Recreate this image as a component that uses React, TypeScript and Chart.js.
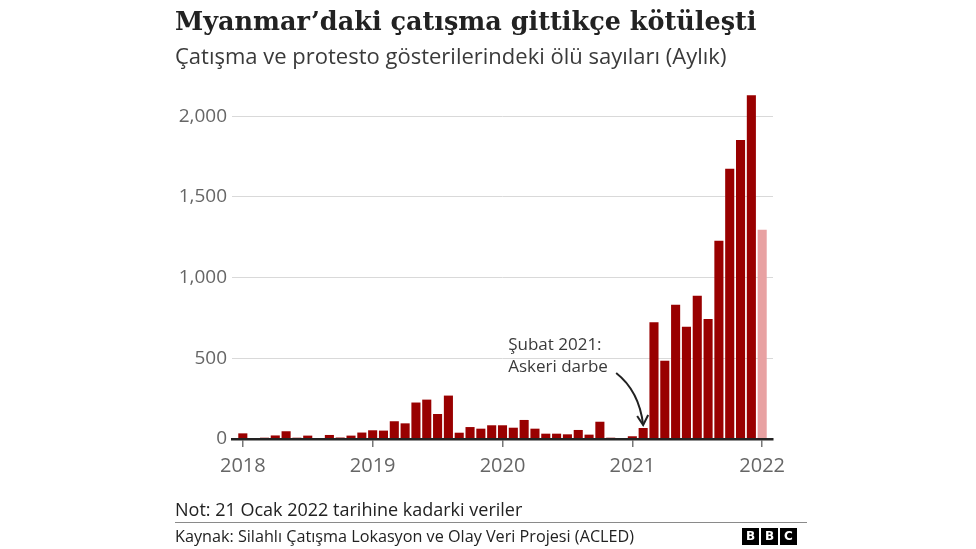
import React, { useEffect, useRef } from "react";
import { Chart, registerables } from "chart.js";

Chart.register(...registerables);

const months: string[] = [
  "2018-01","2018-02","2018-03","2018-04","2018-05","2018-06","2018-07","2018-08","2018-09","2018-10","2018-11","2018-12",
  "2019-01","2019-02","2019-03","2019-04","2019-05","2019-06","2019-07","2019-08","2019-09","2019-10","2019-11","2019-12",
  "2020-01","2020-02","2020-03","2020-04","2020-05","2020-06","2020-07","2020-08","2020-09","2020-10","2020-11","2020-12",
  "2021-01","2021-02","2021-03","2021-04","2021-05","2021-06","2021-07","2021-08","2021-09","2021-10","2021-11","2021-12",
  "2022-01",
];

const deaths: number[] = [
  35, 3, 8, 22, 48, 8, 21, 5, 25, 9, 21, 40,
  54, 52, 110, 97, 226, 244, 155, 269, 39, 74, 64, 85,
  85, 70, 118, 64, 33, 33, 29, 56, 27, 107, 8, 3,
  17, 68, 724, 485, 832, 696, 888, 743, 1228, 1674, 1853, 2130,
  1296,
];

const yearTickMonths: string[] = ["2018-01", "2019-01", "2020-01", "2021-01", "2022-01"];
const yearTickLabels: string[] = ["2018", "2019", "2020", "2021", "2022"];
const yTickValues: number[] = [0, 500, 1000, 1500, 2000];

const annotationMonth = "2021-02";
const annotationLines: string[] = ["Şubat 2021:", "Askeri darbe"];

const DARK = "#990000";
const LIGHT = "#e8a1a2";
const SANS = "'Open Sans', 'Noto Sans', sans-serif";

const annotationPlugin = {
  id: "coupAnnotation",
  afterDatasetsDraw(chart: any) {
    const { ctx, scales } = chart;
    const idx = months.indexOf(annotationMonth);
    const tipX = scales.x.getPixelForValue(idx);
    const tipY = scales.y.getPixelForValue(deaths[idx]) - 3;
    ctx.save();
    ctx.fillStyle = "#3a3a3a";
    ctx.font = `17px ${SANS}`;
    ctx.textBaseline = "middle";
    ctx.textAlign = "left";
    ctx.fillText(annotationLines[0], tipX - 135, tipY - 80);
    ctx.fillText(annotationLines[1], tipX - 135, tipY - 58);
    const sx = tipX - 27;
    const sy = tipY - 52;
    ctx.strokeStyle = "#222";
    ctx.lineWidth = 2;
    ctx.beginPath();
    ctx.moveTo(sx, sy);
    ctx.quadraticCurveTo(tipX - 4, tipY - 34, tipX, tipY);
    ctx.stroke();
    ctx.beginPath();
    ctx.moveTo(tipX - 6, tipY - 9);
    ctx.lineTo(tipX, tipY);
    ctx.lineTo(tipX + 5, tipY - 10);
    ctx.stroke();
    ctx.restore();
  },
};

export default function App() {
  const canvasRef = useRef<HTMLCanvasElement | null>(null);

  useEffect(() => {
    if (!canvasRef.current) return;
    const chart = new Chart(canvasRef.current, {
      type: "bar",
      data: {
        datasets: [
          {
            label: "Ölü sayısı",
            data: deaths.map((v, i) => ({ x: i, y: v })),
            backgroundColor: deaths.map((_, i) => (i === deaths.length - 1 ? LIGHT : DARK)),
            borderWidth: 0,
            barPercentage: 0.84,
            categoryPercentage: 1,
          },
        ],
      },
      options: {
        animation: false,
        responsive: false,
        maintainAspectRatio: false,
        locale: "en-US",
        layout: { padding: { left: 160, right: 203, top: 92, bottom: 70 } },
        plugins: {
          legend: { display: false },
          tooltip: { enabled: false },
        },
        scales: {
          x: {
            type: "linear",
            offset: false,
            min: -1,
            max: months.length,
            afterBuildTicks: (scale: any) => {
              scale.ticks = yearTickMonths.map((m) => ({ value: months.indexOf(m) }));
            },
            afterFit: (scale: any) => {
              scale.height = 40;
            },
            ticks: {
              autoSkip: false,
              maxRotation: 0,
              padding: 7,
              color: "#666",
              font: { family: SANS, size: 20 },
              callback: (value: any) => {
                const k = yearTickMonths.indexOf(months[Number(value)]);
                return k >= 0 ? yearTickLabels[k] : "";
              },
            },
            grid: {
              offset: false,
              drawOnChartArea: false,
              drawTicks: true,
              tickLength: 8,
              color: "#777",
              lineWidth: 1.5,
            },
            border: { display: true, color: "#222", width: 2.5, z: 2 },
          },
          y: {
            min: 0,
            max: 2150,
            afterBuildTicks: (scale: any) => {
              scale.ticks = yTickValues.map((v) => ({ value: v }));
            },
            afterFit: (scale: any) => {
              scale.width = 72;
            },
            ticks: {
              padding: 5,
              color: "#666",
              font: { family: SANS, size: 19 },
              callback: (value: any) => Number(value).toLocaleString("en-US"),
            },
            grid: {
              drawTicks: false,
              color: "#d9d9d9",
              lineWidth: 1,
            },
            border: { display: false },
          },
        },
      },
      plugins: [annotationPlugin],
    });
    return () => chart.destroy();
  }, []);

  return (
    <div
      style={{
        position: "fixed",
        left: 0,
        top: 0,
        width: 976,
        height: 549,
        background: "#fff",
        overflow: "hidden",
      }}
    >
      <canvas
        ref={canvasRef}
        width={976}
        height={549}
        style={{ position: "absolute", left: 0, top: 0, width: 976, height: 549 }}
      />
      <div
        style={{
          position: "absolute",
          left: 175,
          top: 5,
          lineHeight: "32px",
          fontFamily: "'DejaVu Serif', 'Liberation Serif', serif",
          fontWeight: 700,
          fontSize: 25.5,
          color: "#222",
          whiteSpace: "nowrap",
        }}
      >
        Myanmar’daki çatışma gittikçe kötüleşti
      </div>
      <div
        style={{
          position: "absolute",
          left: 175,
          top: 42,
          lineHeight: "26px",
          fontFamily: SANS,
          fontSize: 22,
          color: "#3a3a3a",
          whiteSpace: "nowrap",
        }}
      >
        Çatışma ve protesto gösterilerindeki ölü sayıları (Aylık)
      </div>
      <div
        style={{
          position: "absolute",
          left: 175,
          top: 498,
          lineHeight: "22px",
          fontFamily: SANS,
          fontSize: 18,
          color: "#222",
          whiteSpace: "nowrap",
        }}
      >
        Not: 21 Ocak 2022 tarihine kadarki veriler
      </div>
      <div
        style={{
          position: "absolute",
          left: 175,
          top: 522,
          width: 632,
          height: 1,
          background: "#8a8a8a",
        }}
      />
      <div
        style={{
          position: "absolute",
          left: 175,
          top: 526,
          lineHeight: "20px",
          fontFamily: SANS,
          fontSize: 16.2,
          color: "#222",
          whiteSpace: "nowrap",
        }}
      >
        Kaynak: Silahlı Çatışma Lokasyon ve Olay Veri Projesi (ACLED)
      </div>
      <div style={{ position: "absolute", left: 742, top: 528, display: "flex", gap: 2 }}>
        {["B", "B", "C"].map((ch, i) => (
          <div
            key={i}
            style={{
              width: 17,
              height: 17,
              background: "#000",
              color: "#fff",
              fontFamily: "'DejaVu Sans', sans-serif",
              fontWeight: 700,
              fontSize: 12,
              lineHeight: "17px",
              textAlign: "center",
            }}
          >
            {ch}
          </div>
        ))}
      </div>
    </div>
  );
}
